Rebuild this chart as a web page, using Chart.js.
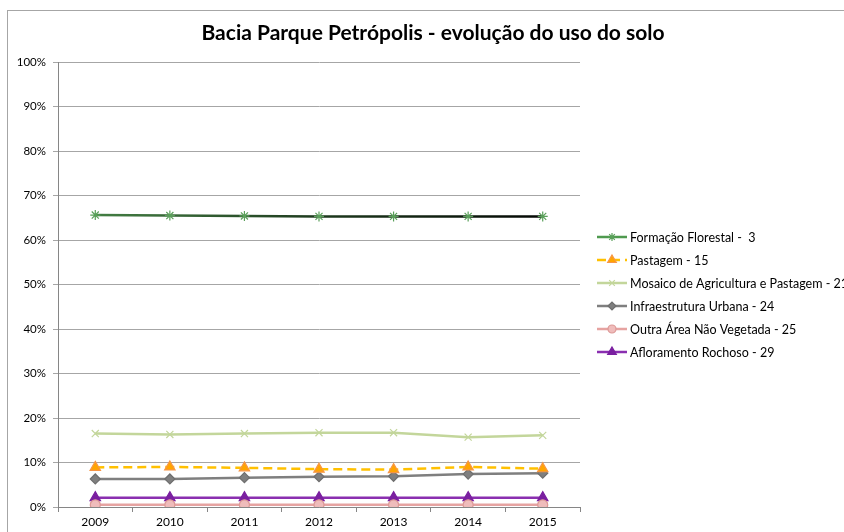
<!DOCTYPE html>
<html>
<head>
<meta charset="utf-8">
<script src="https://cdn.jsdelivr.net/npm/chart.js@4/dist/chart.umd.min.js"></script>
<style>
  html, body { margin: 0; padding: 0; background: #fff; }
  #wrap { width: 844px; height: 532px; }
</style>
</head>
<body>
<div id="wrap"><canvas id="soloChart" width="844" height="532"></canvas></div>
<script>
// anos e percentuais de cada classe de uso do solo
const anos = ["2009", "2010", "2011", "2012", "2013", "2014", "2015"];
const formacaoFlorestal = [0.656, 0.655, 0.654, 0.653, 0.653, 0.653, 0.653];
const pastagem = [0.089, 0.090, 0.088, 0.085, 0.084, 0.090, 0.086];
const mosaico = [0.165, 0.163, 0.165, 0.167, 0.167, 0.157, 0.161];
const infraUrbana = [0.063, 0.063, 0.066, 0.068, 0.069, 0.074, 0.076];
const outraArea = [0.005, 0.005, 0.005, 0.005, 0.005, 0.005, 0.005];
const afloramento = [0.021, 0.021, 0.021, 0.021, 0.021, 0.021, 0.021];
const yTicks = [0, 0.1, 0.2, 0.3, 0.4, 0.5, 0.6, 0.7, 0.8, 0.9, 1];

const FONT = "Lato, 'Liberation Sans', sans-serif";

// linha da formação florestal: verde escurecendo até preto
function florestaLine(context) {
  const { chart } = context;
  const area = chart.chartArea;
  if (!area) return "#3d6b3d";
  const g = chart.ctx.createLinearGradient(area.left, 0, area.right, 0);
  g.addColorStop(0, "#4a8a4a");
  g.addColorStop(0.5, "#1e3a1e");
  g.addColorStop(1, "#000000");
  return g;
}

const series = [
  { label: "Formação Florestal -  3", data: formacaoFlorestal, borderColor: florestaLine, legendColor: "#4f9a4f",
    pointStyle: "star", pointBorderColor: "#5aa05a", pointBackgroundColor: "#5aa05a", pointRadius: 5, borderDash: [] },
  { label: "Pastagem - 15", data: pastagem, borderColor: "#ffc000", legendColor: "#ffc000",
    pointStyle: "triangle", pointBorderColor: "#f79646", pointBackgroundColor: "#ffa500", pointRadius: 6, borderDash: [9, 5] },
  { label: "Mosaico de Agricultura e Pastagem - 21", data: mosaico, borderColor: "#c3d69b", legendColor: "#c3d69b",
    pointStyle: "crossRot", pointBorderColor: "#c3d69b", pointBackgroundColor: "#c3d69b", pointRadius: 5, borderDash: [] },
  { label: "Infraestrutura Urbana - 24", data: infraUrbana, borderColor: "#7f7f7f", legendColor: "#7f7f7f",
    pointStyle: "rectRot", pointBorderColor: "#6f6f6f", pointBackgroundColor: "#7f7f7f", pointRadius: 5, borderDash: [] },
  { label: "Outra Área Não Vegetada - 25", data: outraArea, borderColor: "#e6a3a1", legendColor: "#e6a3a1",
    pointStyle: "circle", pointBorderColor: "#dc9896", pointBackgroundColor: "#efbcbb", pointRadius: 5, borderDash: [] },
  { label: "Afloramento Rochoso - 29", data: afloramento, borderColor: "#8a2fb0", legendColor: "#8a2fb0",
    pointStyle: "triangle", pointBorderColor: "#7a1fa0", pointBackgroundColor: "#7a1fa0", pointRadius: 6, borderDash: [] }
];

// moldura, título e legenda desenhados à mão
const extras = {
  id: "extras",
  beforeDraw(chart) {
    const c = chart.ctx;
    c.save();
    c.fillStyle = "#fff";
    c.fillRect(0, 0, chart.width, chart.height);
    c.strokeStyle = "#a6a6a6";
    c.lineWidth = 1;
    c.strokeRect(7.5, 10.5, 900, 600);
    c.restore();
  },
  afterDraw(chart) {
    const c = chart.ctx;
    const area = chart.chartArea;
    c.save();
    c.fillStyle = "#000";
    c.font = "bold 21px " + FONT;
    c.textAlign = "center";
    c.textBaseline = "middle";
    c.fillText("Bacia Parque Petrópolis - evolução do uso do solo", 433, 33);

    const x0 = area.right + 17;
    let y = 237;
    c.font = "12.5px " + FONT;
    c.textAlign = "left";
    chart.data.datasets.forEach(ds => {
      c.save();
      c.strokeStyle = ds.legendColor;
      c.lineWidth = 2.5;
      c.setLineDash(ds.borderDash);
      c.beginPath();
      c.moveTo(x0, y);
      c.lineTo(x0 + 30, y);
      c.stroke();
      c.restore();
      c.fillStyle = ds.pointBackgroundColor;
      c.strokeStyle = ds.pointBorderColor;
      c.lineWidth = 1.2;
      Chart.helpers.drawPoint(c, { pointStyle: ds.pointStyle, radius: ds.pointRadius - 1, rotation: 0, borderWidth: 1.2 }, x0 + 15, y);
      c.fillStyle = "#000";
      c.fillText(ds.label, x0 + 33, y + 1);
      y += 23;
    });
    c.restore();
  }
};

new Chart(document.getElementById("soloChart"), {
  type: "line",
  data: {
    labels: anos,
    datasets: series.map(s => ({
      label: s.label,
      data: s.data,
      borderColor: s.borderColor,
      legendColor: s.legendColor,
      borderWidth: 2.5,
      borderDash: s.borderDash,
      pointStyle: s.pointStyle,
      pointRadius: s.pointRadius,
      pointBorderColor: s.pointBorderColor,
      pointBackgroundColor: s.pointBackgroundColor,
      pointBorderWidth: 1.2,
      tension: 0,
      fill: false
    }))
  },
  options: {
    responsive: false,
    animation: false,
    layout: { padding: { left: 10, right: 264, top: 62, bottom: 0 } },
    plugins: {
      legend: { display: false },
      title: { display: false },
      tooltip: { enabled: false }
    },
    scales: {
      x: {
        type: "category",
        offset: true,
        afterFit(scale) { scale.height = 25; },
        grid: { offset: true, drawOnChartArea: false, drawTicks: true, tickLength: 5, color: "#868686" },
        border: { color: "#868686", width: 1 },
        ticks: { color: "#000", font: { family: FONT, size: 12 }, padding: 3, maxRotation: 0 }
      },
      y: {
        min: 0,
        max: 1,
        afterFit(scale) { scale.width = 48; },
        afterBuildTicks(scale) { scale.ticks = yTicks.map(v => ({ value: v })); },
        grid: { color: "#a6a6a6", tickLength: 5, drawTicks: true },
        border: { color: "#868686", width: 1 },
        ticks: {
          color: "#000",
          font: { family: FONT, size: 11.5 },
          padding: 7,
          callback: v => Math.round(v * 100) + "%"
        }
      }
    }
  },
  plugins: [extras]
});
</script>
</body>
</html>
